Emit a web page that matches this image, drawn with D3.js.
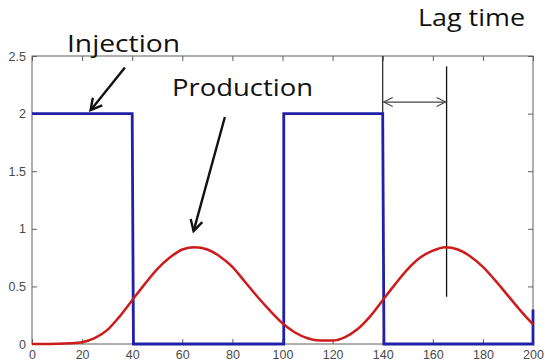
<!DOCTYPE html>
<html>
<head>
<meta charset="utf-8">
<script src="https://cdn.jsdelivr.net/npm/d3@7"></script>
<style>
  html, body { margin: 0; padding: 0; background: #fff; }
  svg { display: block; }
</style>
</head>
<body>
<svg id="chart" width="545" height="364"></svg>
<script>
// Injection rate (square wave) over time
const injectionTime  = [0, 40, 40.5, 100.5, 100.5, 140, 140.5, 200, 200];
const injectionValue = [2, 2, 0, 0, 2, 2, 0, 0, 0.3];

// Production response over time
const productionTime  = [0, 5, 10, 15, 20, 25, 30, 35, 40, 45, 50, 55, 60, 65, 70, 75, 80, 85, 90, 95, 100,
                         105, 110, 115, 120, 125, 130, 135, 140, 145, 150, 155, 160, 165, 170, 175, 180, 185, 190, 195, 200];
const productionValue = [0, 0, 0.002, 0.006, 0.015, 0.05, 0.12, 0.24, 0.38, 0.52, 0.65, 0.75, 0.82, 0.84, 0.82, 0.76, 0.67, 0.54, 0.41, 0.29, 0.18,
                         0.10, 0.05, 0.03, 0.03, 0.06, 0.13, 0.24, 0.38, 0.52, 0.65, 0.75, 0.81, 0.84, 0.82, 0.76, 0.67, 0.55, 0.42, 0.29, 0.17];

// Axis ticks
const xTicks = [0, 20, 40, 60, 80, 100, 120, 140, 160, 180, 200];
const yTicks = [0, 0.5, 1, 1.5, 2, 2.5];
const yTickLabels = ["0", "0.5", "1", "1.5", "2", "2.5"];

// Annotation anchors in data units
const lagStart = 140, lagEnd = 165.5, lagArrowY = 2.1;
const lagEndTop = 2.41, lagEndBottom = 0.41;

const svg = d3.select("#chart");
const x = d3.scaleLinear().domain([0, 200]).range([32, 533]);
const y = d3.scaleLinear().domain([0, 2.5]).range([344, 56]);

const axisColor = "#5f5f5f";
const labelColor = "#4a4a4a";

// Arrow markers
const defs = svg.append("defs");
defs.append("marker")
  .attr("id", "headBig").attr("viewBox", "-12 -8 14 16")
  .attr("refX", 0).attr("refY", 0)
  .attr("markerWidth", 14).attr("markerHeight", 16)
  .attr("markerUnits", "userSpaceOnUse").attr("orient", "auto")
  .append("path").attr("d", "M-11,-6 L0,0 L-11,6")
  .attr("fill", "none").attr("stroke", "#111").attr("stroke-width", 2.4);
defs.append("marker")
  .attr("id", "headSmall").attr("viewBox", "-10 -6 12 12")
  .attr("refX", 0).attr("refY", 0)
  .attr("markerWidth", 12).attr("markerHeight", 12)
  .attr("markerUnits", "userSpaceOnUse").attr("orient", "auto-start-reverse")
  .append("path").attr("d", "M-9,-4.5 L0,0 L-9,4.5")
  .attr("fill", "none").attr("stroke", "#444").attr("stroke-width", 1.1);

// Axes with inward ticks on all four sides
const tickFont = "12.5px 'Liberation Sans', Arial, sans-serif";
function styleAxis(g) {
  g.select(".domain").remove();
  g.selectAll(".tick line").attr("stroke", axisColor);
  g.selectAll(".tick text").attr("fill", labelColor).style("font", tickFont);
}
svg.append("g").attr("transform", `translate(0,${y(0)})`)
  .call(d3.axisBottom(x).tickValues(xTicks).tickFormat(d3.format("d")).tickSizeInner(-5).tickSizeOuter(0).tickPadding(6))
  .call(styleAxis);
svg.append("g").attr("transform", `translate(0,${y(2.5)})`)
  .call(d3.axisTop(x).tickValues(xTicks).tickFormat("").tickSizeInner(-5).tickSizeOuter(0))
  .call(styleAxis);
svg.append("g").attr("transform", `translate(${x(0)},0)`)
  .call(d3.axisLeft(y).tickValues(yTicks).tickFormat((d, i) => yTickLabels[i]).tickSizeInner(-5).tickSizeOuter(0).tickPadding(6))
  .call(styleAxis);
svg.append("g").attr("transform", `translate(${x(200)},0)`)
  .call(d3.axisRight(y).tickValues(yTicks).tickFormat("").tickSizeInner(-5).tickSizeOuter(0))
  .call(styleAxis);

// Plot box
svg.append("rect")
  .attr("x", x(0)).attr("y", y(2.5))
  .attr("width", x(200) - x(0)).attr("height", y(0) - y(2.5))
  .attr("fill", "none").attr("stroke", axisColor).attr("stroke-width", 1);

// Lag time guide lines
svg.append("line")
  .attr("x1", x(lagStart)).attr("x2", x(lagStart))
  .attr("y1", y(2.5)).attr("y2", y(2))
  .attr("stroke", "#222").attr("stroke-width", 1.2);
svg.append("line")
  .attr("x1", x(lagEnd)).attr("x2", x(lagEnd))
  .attr("y1", y(lagEndTop)).attr("y2", y(lagEndBottom))
  .attr("stroke", "#111").attr("stroke-width", 1.3);
svg.append("line")
  .attr("x1", x(lagStart) + 1).attr("x2", x(lagEnd) - 1)
  .attr("y1", y(lagArrowY)).attr("y2", y(lagArrowY))
  .attr("stroke", "#444").attr("stroke-width", 1.1)
  .attr("marker-start", "url(#headSmall)").attr("marker-end", "url(#headSmall)");

// Series lines
const injection = injectionTime.map((t, i) => [t, injectionValue[i]]);
const production = productionTime.map((t, i) => [t, productionValue[i]]);

svg.append("path")
  .attr("d", d3.line().x(d => x(d[0])).y(d => y(d[1]))(injection))
  .attr("fill", "none").attr("stroke", "#2020a8").attr("stroke-width", 2.8)
  .attr("stroke-linejoin", "miter");
svg.append("path")
  .attr("d", d3.line().x(d => x(d[0])).y(d => y(d[1])).curve(d3.curveMonotoneX)(production))
  .attr("fill", "none").attr("stroke", "#cc1c1c").attr("stroke-width", 2.5);

// Callout arrows
function arrow(x1, y1, x2, y2) {
  svg.append("line")
    .attr("x1", x(x1)).attr("y1", y(y1)).attr("x2", x(x2)).attr("y2", y(y2))
    .attr("stroke", "#111").attr("stroke-width", 2.4)
    .attr("marker-end", "url(#headBig)");
}
arrow(37.1, 2.40, 23.4, 2.03);
arrow(77.0, 1.97, 64.5, 0.98);

// Callout labels
const labelFont = "'Open Sans', 'Noto Sans', sans-serif";
function label(text, px, py, len) {
  svg.append("text")
    .attr("x", px).attr("y", py)
    .attr("font-family", labelFont).attr("font-size", 23)
    .attr("fill", "#111")
    .attr("textLength", len).attr("lengthAdjust", "spacingAndGlyphs")
    .text(text);
}
label("Injection", 67, 52, 113);
label("Production", 172, 96, 141);
label("Lag time", 418, 26, 107);
</script>
</body>
</html>
